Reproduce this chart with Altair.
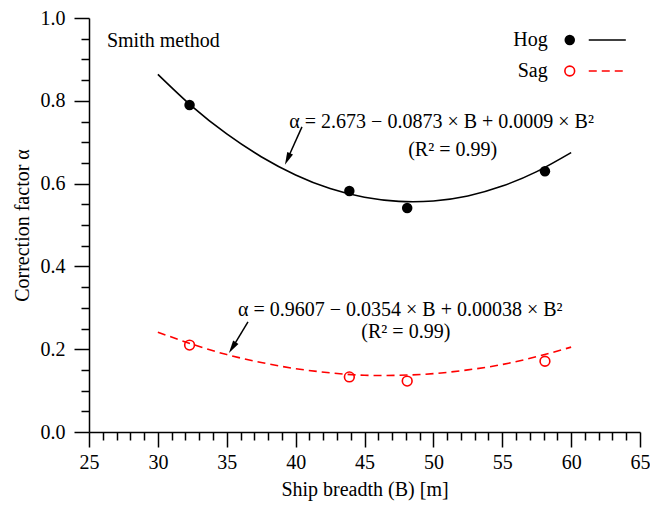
import altair as alt
import pandas as pd

# ---- data ----
B_pts = [32.3, 43.9, 48.1, 58.1]
hog_pts = [0.790, 0.582, 0.541, 0.630]
sag_pts = [0.210, 0.133, 0.123, 0.171]

B_fit = [30, 32.5, 35, 37.5, 40, 42.5, 45, 47.5, 50, 52.5, 55, 57.5, 60]
hog_fit = [0.864, 0.786, 0.720, 0.665, 0.621, 0.588, 0.567, 0.557, 0.558, 0.570, 0.594, 0.629, 0.675]
sag_fit = [0.241, 0.212, 0.187, 0.168, 0.153, 0.143, 0.137, 0.137, 0.141, 0.150, 0.163, 0.182, 0.205]

x_major = [25, 30, 35, 40, 45, 50, 55, 60, 65]
x_minor = [v for v in range(26, 65) if v % 5 != 0]
y_major = [0.0, 0.2, 0.4, 0.6, 0.8, 1.0]
y_minor = [0.05, 0.1, 0.15, 0.25, 0.3, 0.35, 0.45, 0.5, 0.55, 0.65, 0.7, 0.75, 0.85, 0.9, 0.95]

ann_x = [50.6, 51.4, 47.6, 48.0]
ann_y = [0.749, 0.681, 0.295, 0.242]
ann_text = ["α = 2.673 − 0.0873 × B + 0.0009 × B²", "(R² = 0.99)",
            "α = 0.9607 − 0.0354 × B + 0.00038 × B²", "(R² = 0.99)"]

arrow_x = [40.46, 36.54]
arrow_y = [0.737, 0.266]
arrow_x2 = [39.46, 35.47]
arrow_y2 = [0.663, 0.207]
head_x = [39.46, 35.47]
head_y = [0.663, 0.207]
head_angle = [204, 213]

leg_labels = ["Hog", "Sag"]
leg_label_x = [58.3, 58.3]
leg_y = [0.947, 0.872]
leg_mark_x = [59.9, 59.9]
leg_line_x = [61.28, 61.28]
leg_line_x2 = [63.97, 63.97]

title_x = [26.3]
title_y = [0.945]
title_text = ["Smith method"]

FONT = "Liberation Serif"
FS = 20

ARROW_HEAD = "M0,-1L0.4,0.6L-0.4,0.6Z"

xs = alt.Scale(domain=[25, 65], nice=False, zero=False)
ys = alt.Scale(domain=[0, 1], nice=False)

pts = pd.DataFrame({"B": B_pts, "hog": hog_pts, "sag": sag_pts})
fit = pd.DataFrame({"B": B_fit, "hog": hog_fit, "sag": sag_fit})
ann = pd.DataFrame({"x": ann_x, "y": ann_y, "t": ann_text})
arr = pd.DataFrame({"x": arrow_x, "y": arrow_y, "x2": arrow_x2, "y2": arrow_y2,
                    "hx": head_x, "hy": head_y, "a": head_angle})
leg = pd.DataFrame({"t": leg_labels, "lx": leg_label_x, "y": leg_y, "mx": leg_mark_x,
                    "x1": leg_line_x, "x2": leg_line_x2})
ttl = pd.DataFrame({"x": title_x, "y": title_y, "t": title_text})

major_x_axis = alt.Axis(values=x_major, tickSize=15, tickWidth=1.5, domainWidth=1.5,
                        domainColor="black", tickColor="black", labelColor="black",
                        labelFont=FONT, labelFontSize=FS, labelPadding=5, grid=False,
                        title="Ship breadth (B) [m]", titleFont=FONT, titleFontSize=FS,
                        titleFontWeight="normal", titleColor="black", titlePadding=7,
                        orient="bottom", labelFlush=False)
major_y_axis = alt.Axis(values=y_major, format=".1f", tickSize=15, tickWidth=1.5, domainWidth=1.5,
                        domainColor="black", tickColor="black", labelColor="black",
                        labelFont=FONT, labelFontSize=FS, labelPadding=9, grid=False,
                        title="Correction factor α", titleFont=FONT, titleFontSize=FS,
                        titleFontWeight="normal", titleColor="black", titlePadding=8,
                        orient="left", labelFlush=False)
minor_x_axis = alt.Axis(values=x_minor, tickSize=8, tickWidth=1.5, domain=False, labels=False,
                        tickColor="black", grid=False, title="", orient="bottom")
minor_y_axis = alt.Axis(values=y_minor, tickSize=8, tickWidth=1.5, domain=False, labels=False,
                        tickColor="black", grid=False, title="", orient="left")

hog_line = alt.Chart(fit).mark_line(color="black", strokeWidth=1.6, interpolate="natural").encode(
    x=alt.X("B:Q", scale=xs, axis=major_x_axis),
    y=alt.Y("hog:Q", scale=ys, axis=major_y_axis),
)
sag_line = alt.Chart(fit).mark_line(color="#ff0000", strokeWidth=1.6, strokeDash=[8, 5],
                                    interpolate="natural").encode(
    x=alt.X("B:Q", scale=xs, axis=minor_x_axis),
    y=alt.Y("sag:Q", scale=ys, axis=minor_y_axis),
)
hog_pt = alt.Chart(pts).mark_point(shape="circle", filled=True, color="black", size=110, opacity=1).encode(
    x=alt.X("B:Q", scale=xs, axis=None),
    y=alt.Y("hog:Q", scale=ys, axis=None),
)
sag_pt = alt.Chart(pts).mark_point(shape="circle", filled=False, color="#ff0000", size=95,
                                   strokeWidth=1.6, opacity=1).encode(
    x=alt.X("B:Q", scale=xs, axis=None),
    y=alt.Y("sag:Q", scale=ys, axis=None),
)
ann_text_l = alt.Chart(ann).mark_text(font=FONT, fontSize=FS, color="black", align="center",
                                      baseline="middle").encode(
    x=alt.X("x:Q", scale=xs, axis=None),
    y=alt.Y("y:Q", scale=ys, axis=None),
    text="t:N",
)
arrow_l = alt.Chart(arr).mark_rule(color="black", strokeWidth=1.5).encode(
    x=alt.X("x:Q", scale=xs, axis=None),
    y=alt.Y("y:Q", scale=ys, axis=None),
    x2="x2:Q", y2="y2:Q",
)
head_l = alt.Chart(arr).mark_point(shape=ARROW_HEAD, filled=True, color="black", size=250,
                                   opacity=1, strokeWidth=0).encode(
    x=alt.X("hx:Q", scale=xs, axis=None),
    y=alt.Y("hy:Q", scale=ys, axis=None),
    angle=alt.Angle("a:Q", scale=None),
)
ttl_l = alt.Chart(ttl).mark_text(font=FONT, fontSize=FS, color="black", align="left",
                                 baseline="middle").encode(
    x=alt.X("x:Q", scale=xs, axis=None),
    y=alt.Y("y:Q", scale=ys, axis=None),
    text="t:N",
)
leg_text = alt.Chart(leg).mark_text(font=FONT, fontSize=FS, color="black", align="right",
                                    baseline="middle").encode(
    x=alt.X("lx:Q", scale=xs, axis=None),
    y=alt.Y("y:Q", scale=ys, axis=None),
    text="t:N",
)
leg_hog = leg[leg.t == "Hog"]
leg_sag = leg[leg.t == "Sag"]
leg_hog_pt = alt.Chart(leg_hog).mark_point(shape="circle", filled=True, color="black", size=110,
                                           opacity=1).encode(
    x=alt.X("mx:Q", scale=xs, axis=None), y=alt.Y("y:Q", scale=ys, axis=None))
leg_sag_pt = alt.Chart(leg_sag).mark_point(shape="circle", filled=False, color="#ff0000", size=95,
                                           strokeWidth=1.6, opacity=1).encode(
    x=alt.X("mx:Q", scale=xs, axis=None), y=alt.Y("y:Q", scale=ys, axis=None))
leg_hog_ln = alt.Chart(leg_hog).mark_rule(color="black", strokeWidth=1.6).encode(
    x=alt.X("x1:Q", scale=xs, axis=None), x2="x2:Q", y=alt.Y("y:Q", scale=ys, axis=None))
leg_sag_ln = alt.Chart(leg_sag).mark_rule(color="#ff0000", strokeWidth=1.6, strokeDash=[8, 5]).encode(
    x=alt.X("x1:Q", scale=xs, axis=None), x2="x2:Q", y=alt.Y("y:Q", scale=ys, axis=None))

chart = alt.layer(
    hog_line, sag_line, hog_pt, sag_pt, ann_text_l, arrow_l, head_l, ttl_l,
    leg_text, leg_hog_pt, leg_sag_pt, leg_hog_ln, leg_sag_ln,
).resolve_axis(x="independent", y="independent").properties(
    width=551, height=414,
    padding={"left": 89, "top": 18, "right": 10, "bottom": 73},
    autosize=alt.AutoSizeParams(type="none"),
    background="white",
).configure_view(stroke="transparent")

chart.save("out.html", embed_options={"renderer": "svg", "actions": False})
